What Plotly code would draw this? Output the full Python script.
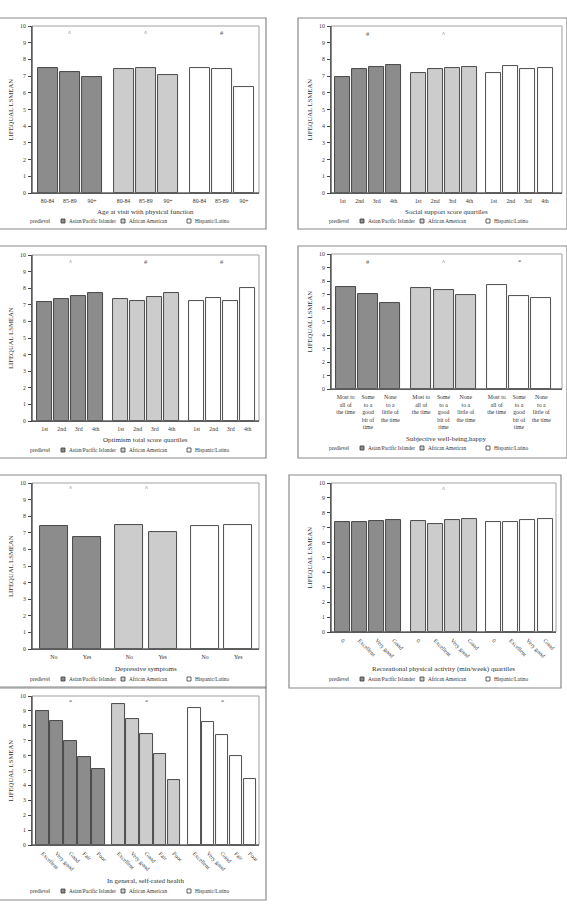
import plotly.graph_objects as go

W, H = 567, 912
FONT = "Liberation Serif"

GROUPS = ["Asian/Pacific Islander", "African American", "Hispanic/Latino"]
FILLS = ["#8c8c8c", "#cccccc", "#ffffff"]
OUTLINE = "#3a3a3a"
Y_TICKS = list(range(0, 11))
Y_TITLE = "LIFEQUAL LSMEAN"
LEGEND_TITLE = "predlevel"

# ---- data ----
age_cats = ["80-84", "85-89", "90+"]
age_vals = [[7.50, 7.22, 6.94], [7.44, 7.46, 7.04], [7.46, 7.44, 6.32]]
age_marks = ["^", "^", "#"]

social_cats = ["1st", "2nd", "3rd", "4th"]
social_vals = [[6.94, 7.40, 7.52, 7.66], [7.20, 7.40, 7.48, 7.56], [7.20, 7.60, 7.44, 7.48]]
social_marks = ["#", "^", ""]

optimism_cats = ["1st", "2nd", "3rd", "4th"]
optimism_vals = [[7.17, 7.37, 7.55, 7.69], [7.33, 7.25, 7.45, 7.69], [7.25, 7.43, 7.25, 8.01]]
optimism_marks = ["^", "#", "#"]

happy_cats = ["Most to<br>all of<br>the time", "Some<br>to a<br>good<br>bit of<br>time",
              "None<br>to a<br>little of<br>the time"]
happy_vals = [[7.53, 7.01, 6.40], [7.46, 7.33, 6.99], [7.70, 6.91, 6.77]]
happy_marks = ["#", "^", "*"]

dep_cats = ["No", "Yes"]
dep_vals = [[7.41, 6.73], [7.47, 7.07], [7.43, 7.49]]
dep_marks = ["^", "^", ""]

rec_cats = ["0", "Excellent", "Very good", "Good"]
rec_vals = [[7.40, 7.40, 7.42, 7.52], [7.47, 7.27, 7.52, 7.58], [7.38, 7.38, 7.49, 7.56]]
rec_marks = ["", "^", ""]

health_cats = ["Excellent", "Very good", "Good", "Fair", "Poor"]
health_vals = [[8.99, 8.31, 7.01, 5.93, 5.08], [9.46, 8.43, 7.42, 6.11, 4.34],
               [9.19, 8.25, 7.37, 6.00, 4.43]]
health_marks = ["*", "*", "*"]

# ---- layout specs (pixel geometry) ----
panels = [
    dict(cats=age_cats, vals=age_vals, marks=age_marks, title="Age at visit with physical function",
         box=(32, 26, 259, 193), frame=(-1, 18, 266, 229), first=47.5, pitch=22.3, gpitch=76, bw=20,
         angle=0, xt=212, lg=221, my=9.62),
    dict(cats=social_cats, vals=social_vals, marks=social_marks, title="Social support score quartiles",
         box=(331, 26, 562, 193), frame=(298, 18, 567, 229), first=342.5, pitch=17.1, gpitch=75.6, bw=15,
         angle=0, xt=212, lg=221, my=9.56),
    dict(cats=optimism_cats, vals=optimism_vals, marks=optimism_marks, title="Optimism total score quartiles",
         box=(32, 255, 259, 421), frame=(-1, 246, 266, 458), first=44.7, pitch=17.0, gpitch=76, bw=14.7,
         angle=0, xt=440, lg=450, my=9.6),
    dict(cats=happy_cats, vals=happy_vals, marks=happy_marks, title="Subjective well-being,happy",
         box=(331, 254, 562, 389), frame=(298, 246, 567, 458), first=345.7, pitch=22.3, gpitch=75.5, bw=20,
         angle=0, xt=439, lg=448, my=9.46),
    dict(cats=dep_cats, vals=dep_vals, marks=dep_marks, title="Depressive symptoms",
         box=(32, 483, 259, 649), frame=(-1, 475, 266, 688), first=53.8, pitch=33.2, gpitch=75.6, bw=28,
         angle=0, xt=669, lg=679, my=9.7),
    dict(cats=rec_cats, vals=rec_vals, marks=rec_marks, title="Recreational physical activity (min/week) quartiles",
         box=(331, 483, 556, 632), frame=(289, 475, 561, 688), first=342.5, pitch=17.1, gpitch=75.6, bw=15,
         angle=45, xt=669, lg=679, my=9.66),
    dict(cats=health_cats, vals=health_vals, marks=health_marks, title="In general, self-rated health",
         box=(32, 696, 259, 845), frame=(-1, 687, 266, 900), first=42.7, pitch=13.9, gpitch=75.8, bw=12.5,
         angle=45, xt=881, lg=891, my=9.66),
]


def fx(px):
    return px / W


def fy(py):
    return 1 - py / H


fig = go.Figure()
shapes = []
annotations = []
layout = {}
TXT = "#333"

for k, p in enumerate(panels, start=1):
    sfx = "" if k == 1 else str(k)
    xid, yid = "x" + sfx, "y" + sfx
    n = len(p["cats"])
    gu = p["gpitch"] / p["pitch"]
    x0, y0, x1, y1 = p["box"]
    xr = [(x0 - p["first"]) / p["pitch"], (x1 - p["first"]) / p["pitch"]]
    tickvals, ticktext = [], []
    for g in range(3):
        xs = [g * gu + i for i in range(n)]
        tickvals += xs
        ticktext += p["cats"]
        fig.add_trace(go.Bar(
            x=xs, y=p["vals"][g], width=p["bw"] / p["pitch"], name=GROUPS[g],
            marker=dict(color=FILLS[g], line=dict(color=OUTLINE, width=0.9)),
            xaxis=xid, yaxis=yid, showlegend=False, hoverinfo="skip"))
        if p["marks"][g]:
            annotations.append(dict(x=g * gu + (n - 1) / 2, y=p["my"], xref=xid, yref=yid,
                                    text=p["marks"][g], showarrow=False,
                                    xanchor="center", yanchor="middle",
                                    font=dict(family=FONT, size=6.5, color="#555")))
    layout["xaxis" + sfx] = dict(
        domain=[fx(x0), fx(x1)], anchor=yid, range=xr, tickvals=tickvals, ticktext=ticktext,
        tickangle=p["angle"], showline=True, linecolor="#444", linewidth=1, ticks="",
        showgrid=False, zeroline=False, automargin=False, fixedrange=True,
        tickfont=dict(family=FONT, size=5.8, color=TXT), ticklabelstandoff=2)
    layout["yaxis" + sfx] = dict(
        domain=[fy(y1), fy(y0)], anchor=xid, range=[0, 10], tickvals=Y_TICKS,
        ticks="outside", ticklen=3, tickcolor="#444", showline=True, linecolor="#444", linewidth=1,
        showgrid=False, zeroline=False, automargin=False, fixedrange=True,
        tickfont=dict(family=FONT, size=5.8, color=TXT), ticklabelstandoff=1)
    # plot box (top/right lighter)
    shapes.append(dict(type="rect", xref="paper", yref="paper", x0=fx(x0), x1=fx(x1), y0=fy(y1), y1=fy(y0),
                       line=dict(color="#a0a0a0", width=1), layer="above"))
    shapes.append(dict(type="line", xref="paper", yref="paper", x0=fx(x0), x1=fx(x1), y0=fy(y1), y1=fy(y1),
                       line=dict(color="#444", width=1), layer="above"))
    shapes.append(dict(type="line", xref="paper", yref="paper", x0=fx(x0), x1=fx(x0), y0=fy(y1), y1=fy(y0),
                       line=dict(color="#444", width=1), layer="above"))
    # panel frame
    fx0, fy0, fx1, fy1 = p["frame"]
    shapes.append(dict(type="rect", xref="paper", yref="paper", x0=fx(fx0), x1=fx(fx1), y0=fy(fy1), y1=fy(fy0),
                       line=dict(color="#8a8a8a", width=1.2)))
    # y title
    annotations.append(dict(x=fx(x0 - 22), y=fy((y0 + y1) / 2), xref="paper", yref="paper",
                            text=Y_TITLE, textangle=-90, showarrow=False,
                            xanchor="center", yanchor="middle",
                            font=dict(family=FONT, size=6.7, color=TXT)))
    # x title
    annotations.append(dict(x=fx((x0 + x1) / 2), y=fy(p["xt"]), xref="paper", yref="paper",
                            text=p["title"], showarrow=False, xanchor="center", yanchor="middle",
                            font=dict(family=FONT, size=7, color=TXT)))
    # legend
    lg = p["lg"]
    annotations.append(dict(x=fx(x0 - 4), y=fy(lg), xref="paper", yref="paper", text=LEGEND_TITLE,
                            showarrow=False, xanchor="left", yanchor="middle",
                            font=dict(family=FONT, size=5.4, color=TXT)))
    for g, (sq, tx) in enumerate([(29, 35), (89, 95), (155, 161)]):
        shapes.append(dict(type="rect", xref="paper", yref="paper",
                           x0=fx(x0 + sq), x1=fx(x0 + sq + 4), y0=fy(lg + 2), y1=fy(lg - 2),
                           fillcolor=FILLS[g], line=dict(color=OUTLINE, width=0.8)))
        annotations.append(dict(x=fx(x0 + tx), y=fy(lg), xref="paper", yref="paper", text=GROUPS[g],
                                showarrow=False, xanchor="left", yanchor="middle",
                                font=dict(family=FONT, size=5.3, color=TXT)))

fig.update_layout(
    width=W, height=H, autosize=False, margin=dict(l=0, r=0, t=0, b=0),
    paper_bgcolor="white", plot_bgcolor="rgba(0,0,0,0)",
    shapes=shapes, annotations=annotations, bargap=0, showlegend=False,
    font=dict(family=FONT, size=6, color=TXT),
    **layout)

fig.write_html("out.html")
